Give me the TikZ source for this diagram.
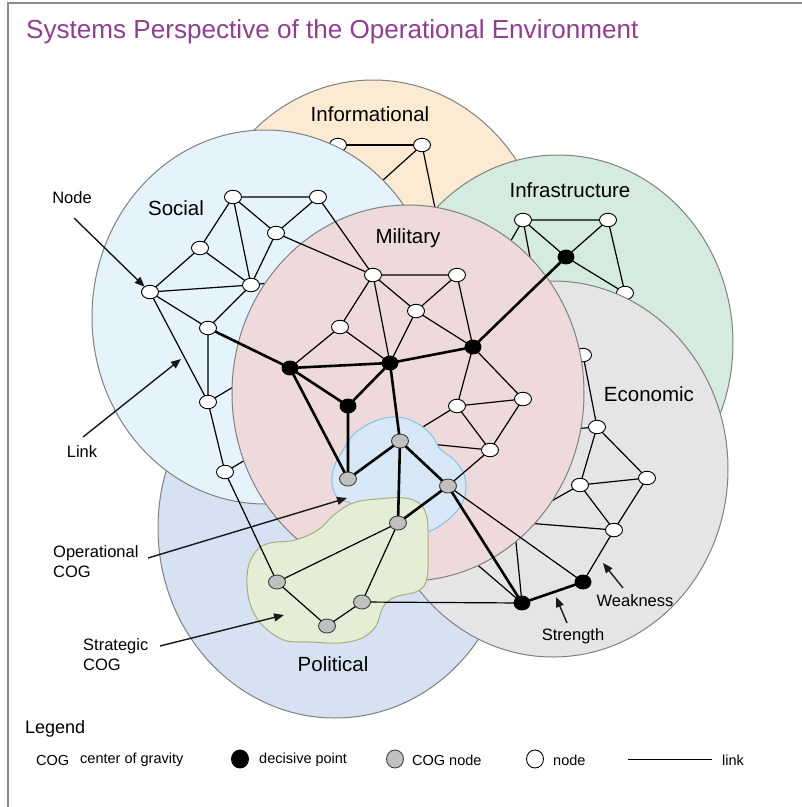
\documentclass[tikz,border=0pt]{standalone}
\usepackage{fontspec}
\setmainfont{Liberation Sans}
\usetikzlibrary{shapes.geometric,arrows.meta}
\definecolor{infoC}{HTML}{FCEBD2}
\definecolor{infraC}{HTML}{D6EBE0}
\definecolor{socC}{HTML}{E4F3FC}
\definecolor{milC}{HTML}{EEDADB}
\definecolor{ecoC}{HTML}{E5E5E7}
\definecolor{polC}{HTML}{D6E2F2}
\definecolor{opC}{HTML}{D8E7F6}
\definecolor{opE}{HTML}{80C4E6}
\definecolor{stC}{HTML}{E4EED6}
\definecolor{stE}{HTML}{A9AE7E}
\definecolor{circE}{HTML}{808080}
\definecolor{titleC}{HTML}{8F3F8F}
\definecolor{cogC}{HTML}{C0C0C0}
\definecolor{frameC}{HTML}{8A8A8A}
\tikzset{
 sphere/.style={draw=circE, line width=1pt},
 wn/.style={ellipse, draw=black, fill=white, line width=0.9pt, minimum width=17pt, minimum height=13.5pt, inner sep=0pt, outer sep=0pt},
 bn/.style={ellipse, draw=black, fill=black, line width=0.9pt, minimum width=16pt, minimum height=14pt, inner sep=0pt, outer sep=0pt},
 gn/.style={ellipse, draw=black!75, fill=cogC, line width=0.9pt, minimum width=17pt, minimum height=14pt, inner sep=0pt, outer sep=0pt},
 lk/.style={draw=black, line width=1.2pt},
 tk/.style={draw=black, line width=2.6pt},
 arr/.style={draw=black!90, line width=1.4pt, -{Triangle[length=10pt,width=8pt]}},
 lbl/.style={font=\fontsize{20.5}{24}\selectfont, inner sep=0pt},
 ann/.style={font=\fontsize{16.5}{20}\selectfont, inner sep=0pt, align=left},
 leg/.style={font=\fontsize{14.5}{17}\selectfont, inner sep=0pt, anchor=west},
 lgdot/.style={ellipse, line width=0.9pt, minimum width=17pt, minimum height=18pt, inner sep=0pt},
}
\begin{document}
\begin{tikzpicture}[x=1pt,y=-1pt]
\useasboundingbox (0,0) rectangle (802,807);
\fill[white] (0,0) rectangle (802,807);
\draw[frameC, line width=1.3pt] (8,807) -- (8,3) -- (802,3);
\node[anchor=west, inner sep=0pt, text=titleC, font=\fontsize{26.1}{30}\selectfont] (title) at (26,32) {Systems Perspective of the Operational Environment};

% ---------- Informational
\filldraw[fill=infoC, sphere] (373,268) ellipse [x radius=175pt, y radius=188pt];
\coordinate (ih1) at (372,190);
\coordinate (ih2) at (442,242);
\coordinate (ih0) at (422,145);
\draw[lk] (ih0) -- (ih1) (ih0) -- (ih2) (ih1) -- (ih2);
\node[wn] (i1) at (338,145) {};
\node[wn] (i2) at (422,145) {};
\draw[lk] (i1) -- (i2);

% ---------- Infrastructure
\filldraw[fill=infraC, sphere] (558,343) ellipse [x radius=175pt, y radius=188pt];
\coordinate (fh1) at (495,268);
\coordinate (fh2) at (538,300);
\node[wn] (f1) at (523,220) {};
\node[wn] (f2) at (608,220) {};
\node[bn] (f3) at (566,257) {};
\node[wn] (f4) at (625,293) {};
\draw[lk] (f1) -- (f2) (f1) -- (f3) (f2) -- (f3) (f3) -- (f4) (f2) -- (f4) (f1) -- (fh1) (f1) -- (fh2);

% ---------- Political
\filldraw[fill=polC, sphere] (335,528) ellipse [x radius=177pt, y radius=190pt];

% ---------- Social
\filldraw[fill=socC, sphere] (265,317) ellipse [x radius=173pt, y radius=187pt];
\node[wn] (s1) at (233,197) {};
\node[wn] (s2) at (318,197) {};
\node[wn] (s3) at (276,233) {};
\node[wn] (s4) at (200,248) {};
\node[wn] (s5) at (150,292) {};
\node[wn] (s6) at (251,285) {};
\node[wn] (s7) at (208,328) {};
\node[wn] (s8) at (208,402) {};
\node[wn] (s9) at (225,472) {};
\coordinate (sh1) at (295,280);
\coordinate (sh2) at (255,374);
\coordinate (sh3) at (262,450);
\draw[lk] (s1) -- (s2) (s1) -- (s3) (s1) -- (s4) (s1) -- (s6) (s2) -- (s3) (s3) -- (s6)
 (s4) -- (s5) (s4) -- (s6) (s5) -- (s6) (s5) -- (s7) (s5) -- (s8) (s6) -- (s7)
 (s7) -- (s8) (s8) -- (s9) (s6) -- (sh1) (s8) -- (sh2) (s9) -- (sh3);

% ---------- Economic
\filldraw[fill=ecoC, sphere] (553,469) ellipse [x radius=175pt, y radius=188pt];
\node[wn] (e1) at (583,355) {};
\node[wn] (e2) at (597,427) {};
\node[wn] (e3) at (647,478) {};
\node[wn] (e4) at (580,485) {};
\node[wn] (e5) at (614,530) {};
\node[bn] (d5) at (583,582) {};
\node[bn] (d6) at (522,603) {};
\coordinate (eh1) at (514,522);
\coordinate (eh2) at (560,430);
\coordinate (eh3) at (452,543);
\draw[lk] (e1) -- (e2) (e2) -- (e3) (e2) -- (e4) (e2) -- (eh2) (e3) -- (e4) (e3) -- (e5)
 (e4) -- (e5) (e4) -- (eh1) (e5) -- (eh1) (d6) -- (eh1) (d6) -- (eh3) (e5) -- (d5);
\draw[tk] (d5) -- (d6);

% ---------- Military
\filldraw[fill=milC, sphere] (408,393) ellipse [x radius=176pt, y radius=188pt];
\coordinate (c1p) at (400,441);
\node[wn] (m1) at (373,275) {};
\node[wn] (m2) at (457,275) {};
\node[wn] (m3) at (416,311) {};
\node[wn] (m4) at (340,327) {};
\node[bn] (d1) at (290,368) {};
\node[bn] (d2) at (390,363) {};
\node[bn] (d3) at (473,347) {};
\node[bn] (d4) at (348,406) {};
\node[wn] (m5) at (457,406) {};
\node[wn] (m6) at (523,399) {};
\node[wn] (m7) at (490,450) {};
\draw[lk] (m1) -- (m2) (m1) -- (m3) (m1) -- (m4) (m1) -- (d2) (m2) -- (m3) (m2) -- (d3)
 (m3) -- (d2) (m3) -- (d3) (m4) -- (d1) (m4) -- (d2) (d3) -- (m5) (d3) -- (m6)
 (m5) -- (m6) (m5) -- (m7) (m6) -- (m7) (m5) -- (c1p) (m7) -- (c1p);
\draw[tk] (d1) -- (d2) (d2) -- (d3) (d1) -- (d4) (d2) -- (d4);

% ---------- COG clouds
\filldraw[fill=opC, draw=opE, line width=1pt] plot[smooth cycle, tension=0.6] coordinates {
 (352,436) (362,428) (375,421) (392,417) (408,419) (423,427) (433,437) (440,449) (452,458)
 (462,470) (466,484) (464,499) (456,512) (444,523) (430,531) (415,533) (395,527) (370,512)
 (350,503) (337,497) (332,483) (334,467) (342,452)};
\filldraw[fill=stC, draw=stE, line width=1pt] plot[smooth cycle, tension=0.6] coordinates {
 (353,503) (377,499) (405,498) (420,504) (427,518) (428,545) (427,578) (418,591) (395,597)
 (383,607) (376,626) (362,638) (340,643) (310,642) (287,641) (270,632) (256,617) (248,595)
 (248,568) (257,550) (270,543) (295,540) (318,530) (335,514)};

\node[gn] (c1) at (400,441) {};
\node[gn] (c2) at (348,479) {};
\node[gn] (c3) at (448,486) {};
\node[gn] (c4) at (398,523) {};
\node[gn] (g1) at (277,582) {};
\node[gn] (g2) at (362,602) {};
\node[gn] (g3) at (327,626) {};

% ---------- cross-layer links
\draw[lk] (s2) -- (m1) (s3) -- (m1) (s9) -- (g1) (c4) -- (g1) (c4) -- (g2) (g1) -- (g3)
 (g3) -- (g2) (g2) -- (d6) (c3) -- (d5) (c3) -- (m7);
\draw[tk] (s7) -- (d1) (d1) -- (c2) (d4) -- (c2) (d2) -- (c1) (d3) -- (f3) (c2) -- (c1)
 (c1) -- (c4) (c1) -- (c3) (c3) -- (c4) (c3) -- (d6);

% ---------- labels
\node[lbl] (lInfo) at (370,114) {Informational};
\node[lbl] (lInfra) at (570,190) {Infrastructure};
\node[lbl] (lSoc) at (176,208) {Social};
\node[lbl] (lMil) at (408,238) {Military};
\node[lbl] (lEco) at (649,394) {Economic};
\node[lbl] (lPol) at (333,664) {Political};

% ---------- annotations
\node[ann] (tNode) at (72,198) {Node};
\node[ann] (tLink) at (82,452) {Link};
\node[ann, anchor=north west] (tOp) at (53,545) {Operational\\COG};
\node[ann, anchor=north west] (tSt) at (83,638) {Strategic\\COG};
\node[ann] (tWeak) at (635,601) {Weakness};
\node[ann] (tStr) at (573,636) {Strength};
\coordinate (aN) at (74,218);
\coordinate (aL0) at (83,437);
\coordinate (aL1) at (181,359);
\coordinate (aO0) at (148,558);
\coordinate (aO1) at (347,498);
\coordinate (aS0) at (160,646);
\coordinate (aS1) at (284,615);
\coordinate (aW0) at (623,588);
\coordinate (aW1) at (603,563);
\coordinate (aT0) at (567,623);
\coordinate (aT1) at (556,597);
\draw[arr] (aN) -- (s5);
\draw[arr] (aL0) -- (aL1);
\draw[arr] (aO0) -- (aO1);
\draw[arr] (aS0) -- (aS1);
\draw[arr] (aW0) -- (aW1);
\draw[arr] (aT0) -- (aT1);

% ---------- legend
\node[anchor=west, inner sep=0pt, font=\fontsize{18}{21}\selectfont] (legT) at (25,729) {Legend};
\node[leg] (lgCOG) at (36,760) {COG};
\node[leg] (lgCOGt) at (80,760) {center of gravity};
\node[lgdot, draw=black, fill=black] (lgB) at (240,759) {};
\node[leg] (lgBt) at (259,760) {decisive point};
\node[lgdot, draw=black!75, fill=cogC] (lgG) at (395,759) {};
\node[leg] (lgGt) at (412,760) {COG node};
\node[lgdot, draw=black, fill=white] (lgW) at (535,759) {};
\node[leg] (lgWt) at (553,760) {node};
\coordinate (lgL0) at (628,759);
\coordinate (lgL1) at (712,759);
\draw[draw=black, line width=1pt] (lgL0) -- (lgL1);
\node[leg] (lgLt) at (722,760) {link};
\end{tikzpicture}
\end{document}
